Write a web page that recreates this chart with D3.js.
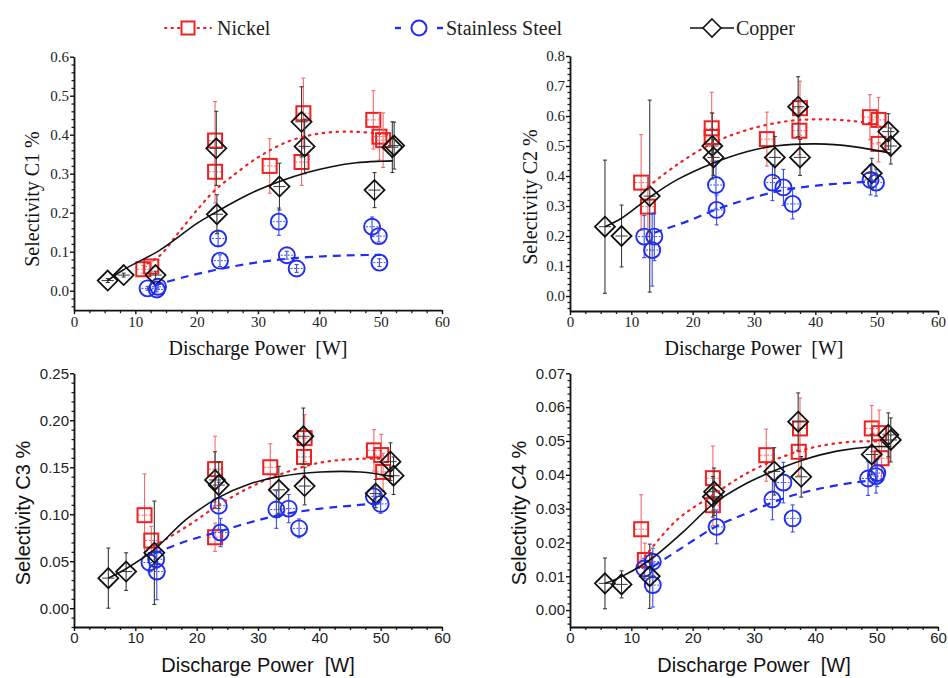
<!DOCTYPE html>
<html>
<head>
<meta charset="utf-8">
<script src="https://cdn.jsdelivr.net/npm/d3@7"></script>
<style>
  body { margin: 0; background: #fff; }
  svg { display: block; }
</style>
</head>
<body>
<svg id="chart" width="948" height="678"></svg>
<script>
// ---------- data: [discharge power W, selectivity %, y error] ----------
const seriesNames = ["Nickel", "Stainless Steel", "Copper"];
const xTickValues = [0, 10, 20, 30, 40, 50, 60];
const xErr = 1.0; // horizontal uncertainty of the power reading (W)

// C1
const c1Nickel = [[11.3,0.055,0.010],[12.6,0.062,0.012],[23.0,0.385,0.100],[23.0,0.305,0.080],[31.9,0.320,0.070],[37.4,0.455,0.090],[37.1,0.330,0.060],[48.8,0.438,0.075],[49.8,0.395,0.060],[50.4,0.386,0.070]];
const c1Steel  = [[12.0,0.006,0.005],[13.5,0.003,0.006],[13.7,0.010,0.006],[23.5,0.134,0.020],[23.8,0.077,0.015],[33.4,0.177,0.035],[34.7,0.091,0.010],[36.3,0.057,0.010],[48.6,0.164,0.025],[49.7,0.140,0.015],[49.8,0.072,0.010]];
const c1Copper = [[5.5,0.026,0.005],[8.1,0.040,0.005],[13.3,0.040,0.010],[23.2,0.365,0.095],[23.3,0.196,0.050],[33.5,0.267,0.060],[37.1,0.433,0.090],[37.6,0.370,0.070],[49.0,0.258,0.045],[51.9,0.368,0.065],[52.2,0.372,0.060]];
const c1NickelFit = [[12,0.070],[14,0.090],[17,0.148],[20.5,0.215],[23,0.258],[25.5,0.290],[30,0.342],[35,0.383],[40,0.403],[45,0.408],[50,0.402],[51,0.400]];
const c1SteelFit  = [[13,0.013],[18,0.035],[23,0.053],[28,0.068],[33,0.079],[38,0.086],[42,0.089],[46,0.091],[50,0.092]];
const c1CopperFit = [[5.5,0.026],[8,0.053],[14,0.104],[20,0.172],[23,0.200],[27,0.235],[30,0.258],[33.5,0.280],[38,0.303],[42,0.318],[46,0.328],[50,0.332],[52,0.333]];
const c1TickLabels = ["0.0","0.1","0.2","0.3","0.4","0.5","0.6"];

// C2
const c2Nickel = [[11.6,0.378,0.160],[12.7,0.298,0.100],[23.1,0.559,0.120],[23.1,0.530,0.080],[32.1,0.523,0.090],[37.5,0.626,0.090],[37.4,0.551,0.080],[48.9,0.596,0.075],[50.3,0.587,0.075],[50.3,0.507,0.060]];
const c2Steel  = [[12.1,0.198,0.070],[13.75,0.198,0.080],[13.4,0.153,0.120],[23.8,0.370,0.080],[23.9,0.287,0.050],[33.0,0.378,0.060],[34.8,0.362,0.060],[36.3,0.307,0.050],[49.0,0.387,0.050],[49.9,0.378,0.045]];
const c2Copper = [[5.7,0.231,0.222],[8.4,0.200,0.103],[13.0,0.333,0.320],[23.2,0.500,0.110],[23.4,0.462,0.060],[33.4,0.462,0.070],[37.2,0.631,0.100],[37.5,0.462,0.060],[49.2,0.409,0.050],[51.9,0.548,0.060],[52.3,0.500,0.060]];
const c2NickelFit = [[12.7,0.364],[17.4,0.437],[23.2,0.509],[28.8,0.553],[34.8,0.581],[40.2,0.589],[46.2,0.583],[50.5,0.570]];
const c2SteelFit  = [[13.75,0.211],[19,0.248],[23.9,0.289],[28.8,0.322],[34.8,0.353],[40.2,0.368],[46.2,0.378],[49.9,0.382]];
const c2CopperFit = [[5.7,0.231],[8.4,0.259],[13,0.329],[17.4,0.387],[23.2,0.442],[28.8,0.481],[33.4,0.500],[40.2,0.507],[46.2,0.498],[52.3,0.476]];
const c2TickLabels = ["0.0","0.1","0.2","0.3","0.4","0.5","0.6","0.7","0.8"];

// C3
const c3Nickel = [[11.5,0.099,0.044],[12.6,0.072,0.015],[23.0,0.148,0.035],[23.0,0.0755,0.015],[32.0,0.150,0.025],[37.6,0.181,0.025],[37.5,0.161,0.020],[48.9,0.168,0.022],[50.1,0.163,0.022],[50.4,0.145,0.020]];
const c3Steel  = [[12.3,0.0486,0.010],[13.5,0.039,0.030],[13.4,0.052,0.010],[23.6,0.109,0.025],[23.9,0.0805,0.015],[33.0,0.105,0.020],[35.0,0.106,0.015],[36.7,0.085,0.010],[48.9,0.119,0.010],[50.0,0.111,0.010]];
const c3Copper = [[5.6,0.032,0.032],[8.5,0.039,0.020],[13.1,0.059,0.055],[23.0,0.1365,0.030],[23.6,0.131,0.025],[33.4,0.126,0.025],[37.4,0.183,0.030],[37.6,0.130,0.020],[49.2,0.122,0.015],[51.6,0.156,0.020],[52.1,0.141,0.020]];
const c3NickelFit = [[13,0.066],[18.4,0.087],[23.6,0.110],[28.5,0.128],[33.4,0.142],[40.2,0.155],[46.7,0.159],[50.5,0.159]];
const c3SteelFit  = [[13,0.058],[18.4,0.0715],[23.9,0.082],[28.5,0.091],[33.4,0.099],[40.2,0.106],[45,0.109],[50,0.112]];
const c3CopperFit = [[5.6,0.032],[8.5,0.042],[13,0.062],[18.4,0.095],[23.6,0.118],[28.5,0.132],[33.4,0.140],[40.2,0.145],[46.7,0.145],[52.1,0.140]];
const c3TickLabels = ["0.00","0.05","0.10","0.15","0.20","0.25"];

// C4
const c4Nickel = [[11.6,0.0239,0.0102],[12.2,0.0148,0.0050],[23.3,0.0390,0.0095],[23.3,0.0310,0.0060],[32.0,0.0458,0.0077],[37.5,0.0537,0.0090],[37.3,0.0468,0.0070],[49.2,0.0537,0.0068],[50.4,0.0523,0.0068],[50.8,0.0449,0.0060]];
const c4Steel  = [[12.1,0.0123,0.0030],[13.5,0.0143,0.0040],[13.5,0.0074,0.0065],[23.9,0.0246,0.0050],[33.0,0.0327,0.0060],[34.8,0.0377,0.0060],[36.3,0.0271,0.0040],[48.6,0.0389,0.0050],[49.9,0.0396,0.0050],[50.1,0.0405,0.0040]];
const c4Copper = [[5.7,0.0079,0.0075],[8.4,0.0076,0.0040],[13.0,0.0100,0.0095],[23.3,0.0335,0.0060],[23.5,0.0350,0.0070],[33.3,0.0410,0.0070],[37.2,0.0557,0.0085],[37.7,0.0394,0.0060],[49.2,0.0460,0.0060],[51.9,0.0518,0.0065],[52.3,0.0503,0.0065]];
const c4NickelFit = [[12.2,0.0158],[17.4,0.0266],[23.3,0.0340],[28.8,0.0404],[34.8,0.0454],[40.2,0.0483],[46.2,0.0498],[50.8,0.0498]];
const c4SteelFit  = [[13.5,0.0128],[18.5,0.0187],[23.9,0.0248],[28.8,0.0286],[34.8,0.0330],[40.2,0.0357],[46.2,0.0377],[49.9,0.0384]];
const c4CopperFit = [[5.7,0.0079],[8.4,0.0099],[13,0.0148],[18.5,0.0232],[23.3,0.0313],[28.8,0.0375],[33.3,0.0412],[38,0.0444],[43.5,0.0470],[49.2,0.0483],[52.3,0.0483]];
const c4TickLabels = ["0.00","0.01","0.02","0.03","0.04","0.05","0.06","0.07"];

// ---------- drawing ----------
const svg = d3.select("#chart");
const SERIF = "'Liberation Serif', 'Times New Roman', serif";
const SANS = "'Liberation Sans', Arial, sans-serif";
const RED = "#ee2020", BLUE = "#1f2cf2", BLACK = "#111";

const styles = {
  nickel: { color: RED, errColor: "#f36a6a", dash: "1.5,5.5", width: 2.2, cap: "round" },
  steel:  { color: BLUE, errColor: "#3c4cf0", dash: "8,6", width: 2.2, cap: "butt" },
  copper: { color: BLACK, errColor: "#3a3a3a", dash: null, width: 1.6, cap: "butt" }
};

const panels = [
  { left: 74,  right: 442, top: 56.7,  bottom: 310.2, dom: [-0.05, 0.6],   major: 0.1,  labels: c1TickLabels, font: SERIF, tick: 15, titleSize: 20,
    label: "Selectivity C1 %", yLabX: 39, yLabY: 199, xLabY: 355, xTickY: 327,
    nickel: c1Nickel, steel: c1Steel, copper: c1Copper, fits: [c1NickelFit, c1SteelFit, c1CopperFit] },
  { left: 570, right: 938, top: 56,    bottom: 311,   dom: [-0.05, 0.8],   major: 0.1,  labels: c2TickLabels, font: SERIF, tick: 15, titleSize: 20,
    label: "Selectivity C2 %", yLabX: 537, yLabY: 197, xLabY: 355, xTickY: 327,
    nickel: c2Nickel, steel: c2Steel, copper: c2Copper, fits: [c2NickelFit, c2SteelFit, c2CopperFit] },
  { left: 74,  right: 442, top: 373.3, bottom: 627,   dom: [-0.02, 0.25],  major: 0.05, labels: c3TickLabels, font: SANS, tick: 15, titleSize: 20,
    label: "Selectivity C3 %", yLabX: 30, yLabY: 513, xLabY: 672, xTickY: 643,
    nickel: c3Nickel, steel: c3Steel, copper: c3Copper, fits: [c3NickelFit, c3SteelFit, c3CopperFit] },
  { left: 570, right: 938, top: 373.3, bottom: 627,   dom: [-0.005, 0.07], major: 0.01, labels: c4TickLabels, font: SANS, tick: 15, titleSize: 20,
    label: "Selectivity C4 %", yLabX: 526, yLabY: 513, xLabY: 672, xTickY: 643,
    nickel: c4Nickel, steel: c4Steel, copper: c4Copper, fits: [c4NickelFit, c4SteelFit, c4CopperFit] }
];

function marker(g, kind, cx, cy, st) {
  if (kind === "nickel") {
    g.append("rect").attr("x", cx - 7).attr("y", cy - 7).attr("width", 14).attr("height", 14)
      .attr("fill", "none").attr("stroke", st.color).attr("stroke-width", 2);
  } else if (kind === "steel") {
    g.append("circle").attr("cx", cx).attr("cy", cy).attr("r", 8)
      .attr("fill", "none").attr("stroke", st.color).attr("stroke-width", 1.9);
  } else {
    const h = 10;
    g.append("path").attr("d", `M${cx},${cy - h}L${cx + h},${cy}L${cx},${cy + h}L${cx - h},${cy}Z`)
      .attr("fill", "none").attr("stroke", st.color).attr("stroke-width", 1.8);
  }
}

panels.forEach(p => {
  const x = d3.scaleLinear().domain([0, 60]).range([p.left, p.right]);
  const y = d3.scaleLinear().domain(p.dom).range([p.bottom, p.top]);
  const g = svg.append("g");

  // minor ticks
  const xMinor = d3.range(0, 60.001, 2.5).filter(v => v % 10 !== 0);
  g.append("g").attr("transform", `translate(0,${p.bottom})`)
    .call(d3.axisBottom(x).tickValues(xMinor).tickSize(3).tickFormat(""))
    .call(a => a.select(".domain").remove())
    .call(a => a.selectAll("line").attr("stroke", "#222").attr("stroke-width", 1.3));
  const step = p.major / 5;
  const nMin = Math.ceil(p.dom[0] / step - 1e-9), nMax = Math.floor(p.dom[1] / step + 1e-9);
  const yMinor = d3.range(nMin, nMax + 1).filter(i => i % 5 !== 0).map(i => i * step);
  g.append("g").attr("transform", `translate(${p.left},0)`)
    .call(d3.axisLeft(y).tickValues(yMinor).tickSize(2.5).tickFormat(""))
    .call(a => a.select(".domain").remove())
    .call(a => a.selectAll("line").attr("stroke", "#222").attr("stroke-width", 1.3));

  // major axes
  const yVals = p.labels.map(Number);
  const xAxis = g.append("g").attr("transform", `translate(0,${p.bottom})`)
    .call(d3.axisBottom(x).tickValues(xTickValues).tickSize(4).tickSizeOuter(0).tickFormat((d, i) => xTickValues[i]));
  xAxis.select(".domain").attr("stroke", "#111").attr("stroke-width", 1.8);
  xAxis.selectAll("line").attr("stroke", "#111").attr("stroke-width", 1.4);
  xAxis.selectAll("text").attr("font-family", p.font).attr("font-size", p.tick).attr("fill", "#222")
    .attr("y", null).attr("dy", null).attr("transform", `translate(0,${p.xTickY - p.bottom})`);

  const yAxis = g.append("g").attr("transform", `translate(${p.left},0)`)
    .call(d3.axisLeft(y).tickValues(yVals).tickSize(4).tickSizeOuter(0).tickFormat((d, i) => p.labels[i]));
  yAxis.select(".domain").attr("stroke", "#111").attr("stroke-width", 1.8);
  yAxis.selectAll("line").attr("stroke", "#111").attr("stroke-width", 1.4);
  yAxis.selectAll("text").attr("font-family", p.font).attr("font-size", p.tick).attr("fill", "#222").attr("x", -5);

  // titles
  g.append("text").attr("x", (p.left + p.right) / 2).attr("y", p.xLabY).attr("text-anchor", "middle")
    .attr("font-family", p.font).attr("font-size", p.titleSize).attr("fill", "#111")
    .text("Discharge Power  [W]").attr("xml:space", "preserve").style("white-space", "pre");
  g.append("text").attr("transform", `translate(${p.yLabX},${p.yLabY}) rotate(-90)`).attr("text-anchor", "middle")
    .attr("font-family", p.font).attr("font-size", p.titleSize).attr("fill", "#111")
    .text(p.label);

  // error bars + markers
  ["nickel", "steel", "copper"].forEach(kind => {
    const st = styles[kind];
    const sg = g.append("g");
    p[kind].forEach(([px, py, e]) => {
      const cx = x(px), cy = y(py), yt = y(py + e), yb = y(py - e);
      sg.append("line").attr("x1", cx).attr("x2", cx).attr("y1", yt).attr("y2", yb)
        .attr("stroke", st.errColor).attr("stroke-width", 1.1);
      [yt, yb].forEach(yy => sg.append("line").attr("x1", cx - 2).attr("x2", cx + 2).attr("y1", yy).attr("y2", yy)
        .attr("stroke", st.errColor).attr("stroke-width", 1.1));
      sg.append("line").attr("x1", x(px - xErr)).attr("x2", x(px + xErr)).attr("y1", cy).attr("y2", cy)
        .attr("stroke", st.errColor).attr("stroke-width", 1)
        .attr("stroke-dasharray", kind === "copper" ? null : "2,1.5");
      marker(sg, kind, cx, cy, st);
    });
  });

  // fitted trends
  const line = d3.line().x(d => x(d[0])).y(d => y(d[1])).curve(d3.curveCatmullRom.alpha(0.5));
  ["nickel", "steel", "copper"].forEach((kind, i) => {
    const st = styles[kind];
    g.append("path").attr("d", line(p.fits[i])).attr("fill", "none")
      .attr("stroke", st.color).attr("stroke-width", st.width)
      .attr("stroke-dasharray", st.dash).attr("stroke-linecap", st.cap);
  });
});

// ---------- legend ----------
const leg = svg.append("g");
const ly = 28;
// Nickel
leg.append("line").attr("x1", 165).attr("x2", 211).attr("y1", ly).attr("y2", ly)
  .attr("stroke", RED).attr("stroke-width", 2).attr("stroke-dasharray", "1.5,5").attr("stroke-linecap", "round");
leg.append("rect").attr("x", 188 - 6.5).attr("y", ly - 6.5).attr("width", 13).attr("height", 13)
  .attr("fill", "#fff").attr("stroke", RED).attr("stroke-width", 2);
leg.append("text").attr("x", 217).attr("y", ly + 7).attr("font-family", SERIF).attr("font-size", 20)
  .attr("fill", "#222").text(seriesNames[0]);
// Stainless Steel
[[395, 401], [437, 443]].forEach(([a, b]) => leg.append("line").attr("x1", a).attr("x2", b).attr("y1", ly).attr("y2", ly)
  .attr("stroke", BLUE).attr("stroke-width", 2.4));
leg.append("circle").attr("cx", 419).attr("cy", ly).attr("r", 7.5).attr("fill", "none").attr("stroke", BLUE).attr("stroke-width", 2);
leg.append("text").attr("x", 446).attr("y", ly + 7).attr("font-family", SERIF).attr("font-size", 20)
  .attr("fill", "#222").text(seriesNames[1]);
// Copper
leg.append("line").attr("x1", 690).attr("x2", 734).attr("y1", ly).attr("y2", ly).attr("stroke", BLACK).attr("stroke-width", 1.6);
leg.append("path").attr("d", `M712,${ly - 9}L721,${ly}L712,${ly + 9}L703,${ly}Z`).attr("fill", "#fff").attr("stroke", BLACK).attr("stroke-width", 1.6);
leg.append("text").attr("x", 736).attr("y", ly + 7).attr("font-family", SERIF).attr("font-size", 20)
  .attr("fill", "#222").text(seriesNames[2]);
</script>
</body>
</html>
